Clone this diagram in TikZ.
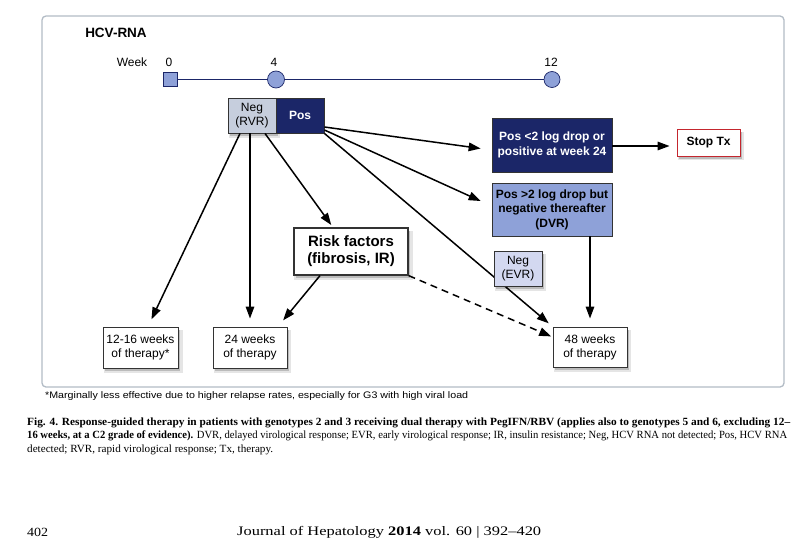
\documentclass[tikz,border=0pt]{standalone}
\usepackage{fontspec}
\usepackage{graphicx}
\setmainfont{Liberation Sans}
\newfontfamily\capfont{Liberation Serif}
\newfontfamily\footfont{Liberation Serif}
\usetikzlibrary{arrows.meta,shadows}
\newcommand{\fitto}[2]{\setbox0=\hbox{#2}\pgfmathsetmacro{\fitfac}{#1/\the\wd0}\scalebox{\fitfac}[1]{\box0}}
\definecolor{navy}{HTML}{1B2668}
\definecolor{peri}{HTML}{8EA1D8}
\definecolor{rvrgray}{HTML}{C6CEDD}
\definecolor{evrblue}{HTML}{D3D8F0}
\definecolor{framegray}{HTML}{B3BCC6}
\definecolor{stopred}{HTML}{C4262E}
\tikzset{
  lbl/.style={inner sep=0pt, font=\fontsize{12}{14}\selectfont},
  box/.style={draw=black!80, line width=0.9pt, align=center, inner sep=0pt,
    font=\fontsize{12}{14}\selectfont},
  softshadow/.style={general shadow={fill=black, opacity=0.10, shadow xshift=2.5pt, shadow yshift=-3.5pt, shadow scale=1.05},
    general shadow={fill=black, opacity=0.18, shadow xshift=2pt, shadow yshift=-2.5pt}},
  arr/.style={-{Triangle[length=12pt,width=8.5pt]}, line width=1.5pt, black},
  dasharr/.style={arr, dash pattern=on 7pt off 5pt},
  marker/.style={draw=navy, fill=peri, line width=0.7pt, inner sep=0pt},
}
\begin{document}
\begin{tikzpicture}[x=1pt,y=-1pt]
\useasboundingbox[fill=white] (0,0) rectangle (810,551);
% frame
\draw[framegray, line width=1.3pt, rounded corners=4pt] (42,16) rectangle (784,387);
\node[lbl, font=\fontsize{13.5}{15}\selectfont\bfseries] (title) at (116,33) {HCV-RNA};
% timeline
\node[lbl] (week) at (132,62) {Week};
\node[lbl] (l0) at (169,62) {0};
\node[lbl] (l4) at (274,62) {4};
\node[lbl] (l12) at (551,62) {12};
\node[marker, rectangle, minimum size=14pt] (t0) at (170,79.5) {};
\node[marker, circle, minimum size=17pt] (t4) at (276,79.5) {};
\node[marker, circle, minimum size=16pt] (t12) at (552,79.5) {};
\draw[navy, line width=0.8pt] (t0) -- (t4) -- (t12);
% boxes
\node[box, softshadow, fill=rvrgray, minimum width=48pt, minimum height=35pt] (neg) at (252,115.5) {Neg\\(RVR)};
\node[box, fill=navy, text=white, font=\fontsize{12}{14}\selectfont\bfseries, minimum width=48pt, minimum height=35pt] (pos) at (300,115.5) {Pos};
\node[box, fill=navy, text=white, font=\fontsize{12}{14.5}\selectfont\bfseries, minimum width=120pt, minimum height=54pt] (p2) at (552,145) {Pos <2 log drop or\\positive at week 24};
\node[box, softshadow, draw=stopred, fill=white, font=\fontsize{12}{14}\selectfont\bfseries, minimum width=63pt, minimum height=27pt] (stop) at (708.5,142.5) {Stop Tx};
\node[box, fill=peri, font=\fontsize{12}{14.5}\selectfont\bfseries, minimum width=120pt, minimum height=53pt] (dvr) at (552,209.5) {Pos >2 log drop but\\negative thereafter\\(DVR)};
\node[box, softshadow, fill=white, line width=1.2pt, font=\fontsize{15}{17}\selectfont\bfseries, minimum width=114pt, minimum height=47pt] (risk) at (351,251.5) {Risk factors\\(fibrosis, IR)};
\node[box, softshadow, fill=white, minimum width=75pt, minimum height=41pt] (w1216) at (140.5,347.5) {12-16 weeks\\of therapy*};
\node[box, softshadow, fill=white, minimum width=74pt, minimum height=41pt] (w24) at (250,347.5) {24 weeks\\of therapy};
\node[box, softshadow, fill=white, minimum width=74pt, minimum height=40pt] (w48) at (590,347) {48 weeks\\of therapy};
% connectors
\draw[arr, shorten >=8pt] ([xshift=-12pt]neg.south) -- ([xshift=7.5pt]w1216.north);
\draw[arr, shorten >=8pt] ([xshift=-2pt]neg.south) -- (w24.north);
\draw[arr, shorten >=3pt] ([xshift=13pt]neg.south) -- ([xshift=-18pt]risk.north);
\draw[arr, shorten >=8pt] ([xshift=-31pt]risk.south) -- ([xshift=28pt]w24.north);
\draw[dasharr, shorten >=1.5pt] (risk.south east) -- ([yshift=10pt]w48.west);
\draw[arr, shorten >=11pt] ([yshift=-11.5pt]pos.east) -- ([yshift=-5pt]p2.west);
\draw[arr, shorten >=12pt] ([yshift=-14.5pt]pos.east) -- ([yshift=3.5pt]dvr.west);
\draw[arr, shorten >=5pt] (pos.south east) -- (w48.north west);
\draw[arr, shorten >=8pt] ([xshift=38pt]dvr.south) -- (w48.north);
\draw[arr, shorten >=7pt] ([yshift=-1pt]p2.east) -- ([yshift=-1pt]p2.east -| stop.west);
\node[box, softshadow, fill=evrblue, minimum width=48pt, minimum height=35pt] (evr) at (518,268.5) {Neg\\(EVR)};
% footnote and caption
\node[lbl, anchor=west, font=\fontsize{9.5}{11}\selectfont] (fn) at (45,396.5) {\fitto{423}{*Marginally less effective due to higher relapse rates, especially for G3 with high viral load}};
\node[lbl, anchor=west, font=\capfont\fontsize{11}{12}\selectfont] (cap1) at (27,422.5) {\fitto{763}{\bfseries Fig. 4. Response-guided therapy in patients with genotypes 2 and 3 receiving dual therapy with PegIFN/RBV (applies also to genotypes 5 and 6, excluding 12–}};
\node[lbl, anchor=west, font=\capfont\fontsize{11}{12}\selectfont] (cap2) at (27,436) {\fitto{760}{{\bfseries 16 weeks, at a C2 grade of evidence).} DVR, delayed virological response; EVR, early virological response; IR, insulin resistance; Neg, HCV RNA not detected; Pos, HCV RNA}};
\node[lbl, anchor=west, font=\capfont\fontsize{11}{12}\selectfont] (cap3) at (27,449.5) {\fitto{246}{detected; RVR, rapid virological response; Tx, therapy.}};
% page footer
\node[lbl, anchor=west, font=\footfont\fontsize{12.5}{14}\selectfont] (pg) at (27,532) {\fitto{21}{402}};
\node[lbl, anchor=west, font=\footfont\fontsize{13}{14}\selectfont] (jr) at (237,532) {\fitto{304}{Journal of Hepatology {\bfseries 2014} vol. 60 | 392–420}};
\end{tikzpicture}
\end{document}
